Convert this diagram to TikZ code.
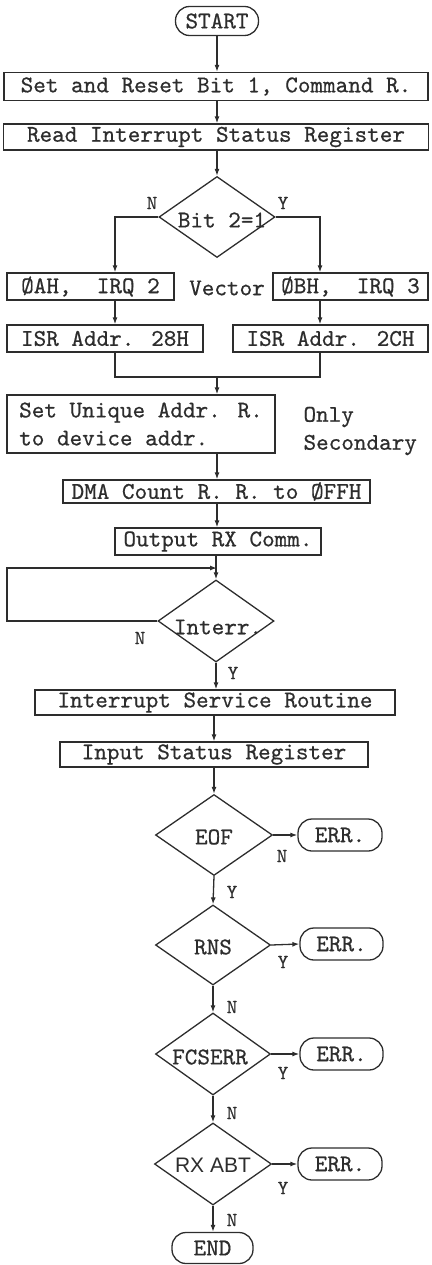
\documentclass[tikz,border=0pt]{standalone}
\usepackage{fontspec}
\newfontfamily\cour{lmmono10-regular}[Extension=.otf, FakeBold=0.6]
\newfontfamily\helv{Liberation Sans}
\usetikzlibrary{shapes.geometric,arrows.meta,calc}
\definecolor{ink}{RGB}{45,45,45}
\begin{document}
\begin{tikzpicture}[x=1pt,y=-1pt,
  txt/.style={font=\cour\fontsize{24}{28}\selectfont, text=ink},
  lab/.style={font=\cour\fontsize{20}{22}\selectfont, text=ink},
  box/.style={draw=ink, line width=1.3pt, rectangle, inner sep=0pt, txt},
  term/.style={draw=ink, line width=1.3pt, rectangle, rounded corners=14pt, inner sep=0pt, txt},
  dec/.style={draw=ink, line width=1.3pt, diamond, inner sep=0pt},
  arr/.style={draw=ink, line width=1.3pt, -{Latex[length=7pt,width=5pt]}},
  ln/.style={draw=ink, line width=1.3pt}]
\useasboundingbox (0,0) rectangle (431,1265);

% nodes
\node[term, minimum width=83pt, minimum height=29pt] (start) at (217,21) {START};
\node[box, minimum width=424pt, minimum height=28pt] (b1) at (216,86.5) {Set and Reset Bit 1, Command R.};
\node[box, minimum width=425pt, minimum height=26pt] (b2) at (216,137) {Read Interrupt Status Register};
\node[dec, minimum width=116pt, minimum height=81pt] (d1) at (217,217) {};
\node[txt] (d1t) at (222,220) {Bit 2=1};
\node[box, minimum width=167pt, minimum height=27pt] (b3) at (90.5,286.5) {ØAH,\ \ IRQ 2};
\node[txt] (vec) at (227,288) {Vector};
\node[box, minimum width=155pt, minimum height=27pt] (b4) at (350.5,286.5) {ØBH,\ \ IRQ 3};
\node[box, minimum width=196pt, minimum height=27pt] (b5) at (105,338.5) {ISR Addr. 28H};
\node[box, minimum width=195pt, minimum height=27pt] (b6) at (330.5,338.5) {ISR Addr. 2CH};
\node[box, minimum width=268pt, minimum height=58pt, align=left] (b7) at (141,424) {Set Unique Addr. R.\\to device addr.};
\node[txt, anchor=west, align=left] (only) at (300,431) {Only\\Secondary};
\node[box, minimum width=307pt, minimum height=23pt] (b8) at (216.5,491.5) {DMA Count R. R. to ØFFH};
\node[box, minimum width=206pt, minimum height=27pt] (b9) at (218,541.5) {Output RX Comm.};
\node[dec, minimum width=116pt, minimum height=82pt] (d2) at (216,621) {};
\node[txt] (d2t) at (218,627) {Interr.};
\node[box, minimum width=360pt, minimum height=25pt] (b10) at (215,702.5) {Interrupt Service Routine};
\node[box, minimum width=308pt, minimum height=25pt] (b11) at (214,754.5) {Input Status Register};
\node[dec, minimum width=117pt, minimum height=81pt] (d3) at (214,835) {};
\node[txt] (d3t) at (214,837) {EOF};
\node[term, minimum width=84pt, minimum height=32pt] (e1) at (340,835) {ERR.};
\node[dec, minimum width=115pt, minimum height=80pt] (d4) at (213,945) {};
\node[txt] (d4t) at (213,947) {RNS};
\node[term, minimum width=83pt, minimum height=32pt] (e2) at (341.5,944) {ERR.};
\node[dec, minimum width=115pt, minimum height=82pt] (d5) at (213,1054) {};
\node[txt] (d5t) at (210,1057) {FCSERR};
\node[term, minimum width=83pt, minimum height=32pt] (e3) at (341.5,1054) {ERR.};
\node[dec, minimum width=117pt, minimum height=82pt] (d6) at (213,1164) {};
\node[font=\helv\fontsize{21}{24}\selectfont, text=ink] (d6t) at (213,1165) {RX ABT};
\node[term, minimum width=84pt, minimum height=32pt] (e4) at (340,1164) {ERR.};
\node[term, minimum width=81pt, minimum height=31pt] (end) at (212.5,1248) {END};

% labels
\node[lab] (l1) at (152,203) {N};
\node[lab] (l2) at (283,203) {Y};
\node[lab] (l3) at (140,638) {N};
\node[lab] (l4) at (233,673) {Y};
\node[lab] (l5) at (282,856) {N};
\node[lab] (l6) at (232,892) {Y};
\node[lab] (l7) at (283,962) {Y};
\node[lab] (l8) at (232,1007) {N};
\node[lab] (l9) at (283,1073) {Y};
\node[lab] (l10) at (232,1113) {N};
\node[lab] (l11) at (283,1188) {Y};
\node[lab] (l12) at (232,1220) {N};

% helper coordinates
\coordinate (lx) at (115,0);
\coordinate (rx) at (320,0);
\coordinate (mj) at (217,377);
\coordinate (jx) at (217,0);
\coordinate (lp) at (217,568);
\coordinate (loopL) at (7,568);

% connectors
\draw[arr] (start.south -| jx) -- (b1.north -| jx);
\draw[arr] (b1.south -| jx) -- (b2.north -| jx);
\draw[arr] (b2.south -| d1.north) -- (d1.north);
\draw[arr] (d1.west) -| (b3.north -| lx);
\draw[arr] (d1.east) -| (b4.north -| rx);
\draw[arr] (b3.south -| lx) -- (b5.north -| lx);
\draw[arr] (b4.south -| rx) -- (b6.north -| rx);
\draw[ln] (b5.south -| lx) |- (mj) -| (b6.south -| rx);
\draw[arr] (mj) -- (b7.north -| mj);
\draw[arr] (b7.south -| jx) -- (b8.north -| jx);
\draw[arr] (b8.south -| jx) -- (b9.north -| jx);
\draw[arr] (d2.north |- b9.south) -- (d2.north);
\draw[arr] (d2.west) -| (loopL) -- (lp);
\draw[arr] (d2.south) -- (d2.south |- b10.north);
\draw[arr] (b11.north |- b10.south) -- (b11.north);
\draw[arr] (d3.north |- b11.south) -- (d3.north);
\draw[arr] (d3.east) -- (e1.west);
\draw[arr] (d3.south) -- (d4.north);
\draw[arr] (d4.east) -- (e2.west);
\draw[arr] (d4.south) -- (d5.north);
\draw[arr] (d5.east) -- (e3.west);
\draw[arr] (d5.south) -- (d6.north);
\draw[arr] (d6.east) -- (e4.west);
\draw[arr] (d6.south) -- (d6.south |- end.north);
\end{tikzpicture}
\end{document}
